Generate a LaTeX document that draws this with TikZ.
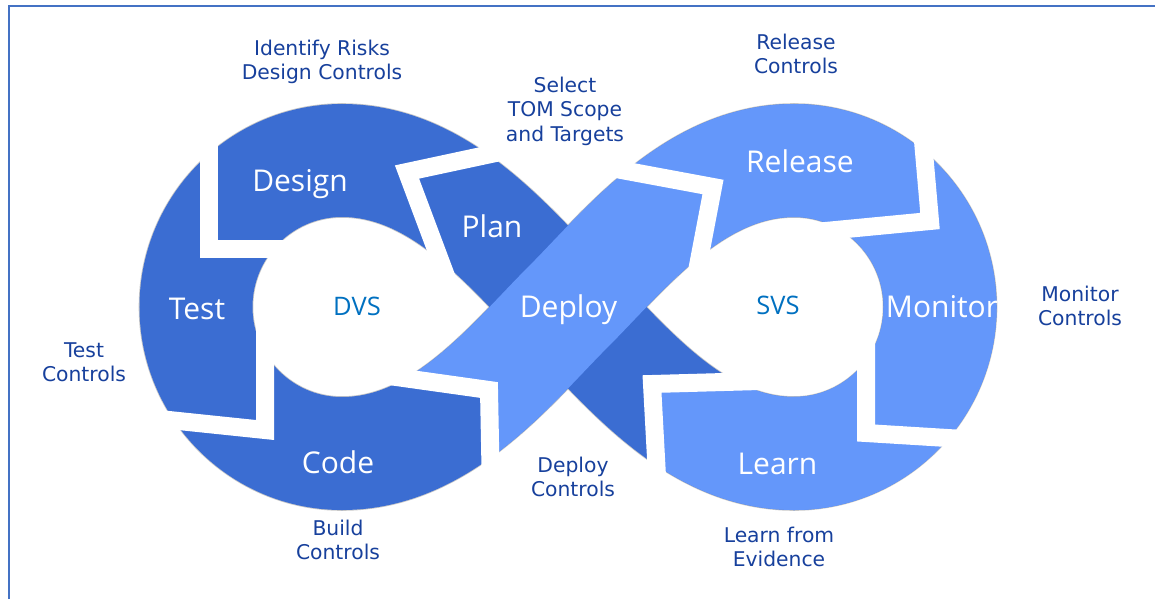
\documentclass[tikz,border=0pt]{standalone}
\usepackage{fontspec}
\setmainfont{DejaVu Sans}
\newfontfamily\segfont{Open Sans}
\definecolor{darkb}{HTML}{3B6DD2}
\definecolor{lightb}{HTML}{6497FA}
\definecolor{navy}{HTML}{17409C}
\definecolor{holeb}{HTML}{0070C0}
\definecolor{frameb}{HTML}{4472C4}
\begin{document}
\begin{tikzpicture}[x=1pt,y=-1pt,
  seg/.style={text=white,inner sep=0pt,font=\segfont\fontsize{30}{36}\selectfont},
  outl/.style={text=navy,align=center,inner sep=0pt,font=\fontsize{20.3}{24.5}\selectfont},
  holetxt/.style={text=holeb,inner sep=0pt,font=\segfont\fontsize{25.5}{30}\selectfont},
  sep/.style={draw=white,line width=18pt},
  band/.style={line width=113pt}]
\useasboundingbox (0,0) rectangle (1155,599);
% key points of the figure-eight centre line
\coordinate (X) at (568,307);
\coordinate (a1) at (511.4,250.4); \coordinate (a2) at (442,160.5);
\coordinate (T) at (342,160.5);
\coordinate (b1) at (261.4,160.5); \coordinate (b2) at (196,226.1);
\coordinate (L) at (196,307);
\coordinate (c1) at (196,387.9); \coordinate (c2) at (261.4,453.5);
\coordinate (B) at (342,453.5);
\coordinate (d1) at (442,453.5); \coordinate (d2) at (511.4,363.6);
\coordinate (e1) at (624.6,250.4); \coordinate (e2) at (694,160.5);
\coordinate (T2) at (794,160.5);
\coordinate (f1) at (874.6,160.5); \coordinate (f2) at (940,226.1);
\coordinate (R) at (940,307);
\coordinate (g1) at (940,387.9); \coordinate (g2) at (874.6,453.5);
\coordinate (B2) at (794,453.5);
\coordinate (h1) at (694,453.5); \coordinate (h2) at (624.6,363.6);

% frame
\draw[frameb,line width=1.6pt] (9,599) -- (9,6) -- (1155,6);

% thin grey rim
\draw[band,line width=114.6pt,draw=black!22]
  (X) .. controls (a1) and (a2) .. (T) .. controls (b1) and (b2) .. (L)
  .. controls (c1) and (c2) .. (B) .. controls (d1) and (d2) .. (X)
  .. controls (e1) and (e2) .. (T2) .. controls (f1) and (f2) .. (R)
  .. controls (g1) and (g2) .. (B2) .. controls (h1) and (h2) .. (X);
% dark loop
\draw[band,draw=darkb]
  (X) .. controls (a1) and (a2) .. (T) .. controls (b1) and (b2) .. (L)
  .. controls (c1) and (c2) .. (B) .. controls (d1) and (d2) .. (X)
  .. controls (e1) and (e2) .. (T2) .. controls (f1) and (f2) .. (R)
  .. controls (g1) and (g2) .. (B2) .. controls (h1) and (h2) .. (X);
% light: lower right of right lobe up to the Learn separator
\begin{scope}
\clip (665,600) -- (652,384) -- (780,379.5) -- (780,250) -- (1155,250) -- (1155,600) -- cycle;
\draw[band,draw=lightb] (R) .. controls (g1) and (g2) .. (B2) .. controls (h1) and (h2) .. (X);
\end{scope}
% light: Deploy arm and right lobe
\begin{scope}
\clip (300,0) -- (300,365) -- (385,376) -- (489,390) -- (493,600) -- (1155,600) -- (1155,0) -- cycle;
\draw[band,draw=lightb] (B) .. controls (d1) and (d2) .. (X)
  .. controls (e1) and (e2) .. (T2) .. controls (f1) and (f2) .. (R)
  .. controls (g1) and (g2) .. (B2);
\end{scope}

% white chevron separators
\draw[sep] (209,130) -- (209,249) -- (290,249);
\draw[sep] (145,417.5) -- (265,430) -- (265,320);
\draw[sep] (375,374) -- (489,390) -- (491,495);
\draw[sep] (505,151) -- (407,172) -- (452,292);
\draw[sep] (600,166) -- (713,187) -- (693,292);
\draw[sep] (921,118) -- (930,221) -- (815,232);
\draw[sep] (866,320) -- (866,433) -- (980,440);
\draw[sep] (760,381) -- (652,384) -- (658,495);

% segment labels
\node[seg] (design) at (300,184.5) {Design};
\node[seg] (plan) at (492,226) {Plan};
\node[seg] (test) at (197,309) {Test};
\node[seg] (code) at (338,462) {Code};
\node[seg] (deploy) at (568.5,309.5) {Deploy};
\node[seg] (release) at (800,161) {Release};
\node[seg] (monitor) at (942,307) {Monitor};
\node[seg] (learn) at (777.5,464) {Learn};
\node[holetxt] (dvs) at (357,306) {DVS};
\node[holetxt] (svs) at (778,305) {SVS};

% outer labels
\node[outl] (l1) at (322,62) {Identify Risks\\Design Controls};
\node[outl] (l2) at (565,111) {Select\\TOM Scope\\and Targets};
\node[outl] (l3) at (796,54) {Release\\Controls};
\node[outl] (l4) at (1080,306) {Monitor\\Controls};
\node[outl] (l5) at (84,362) {Test\\Controls};
\node[outl] (l6) at (338,540) {Build\\Controls};
\node[outl] (l7) at (573,477) {Deploy\\Controls};
\node[outl] (l8) at (779,547) {Learn from\\Evidence};
\end{tikzpicture}
\end{document}
